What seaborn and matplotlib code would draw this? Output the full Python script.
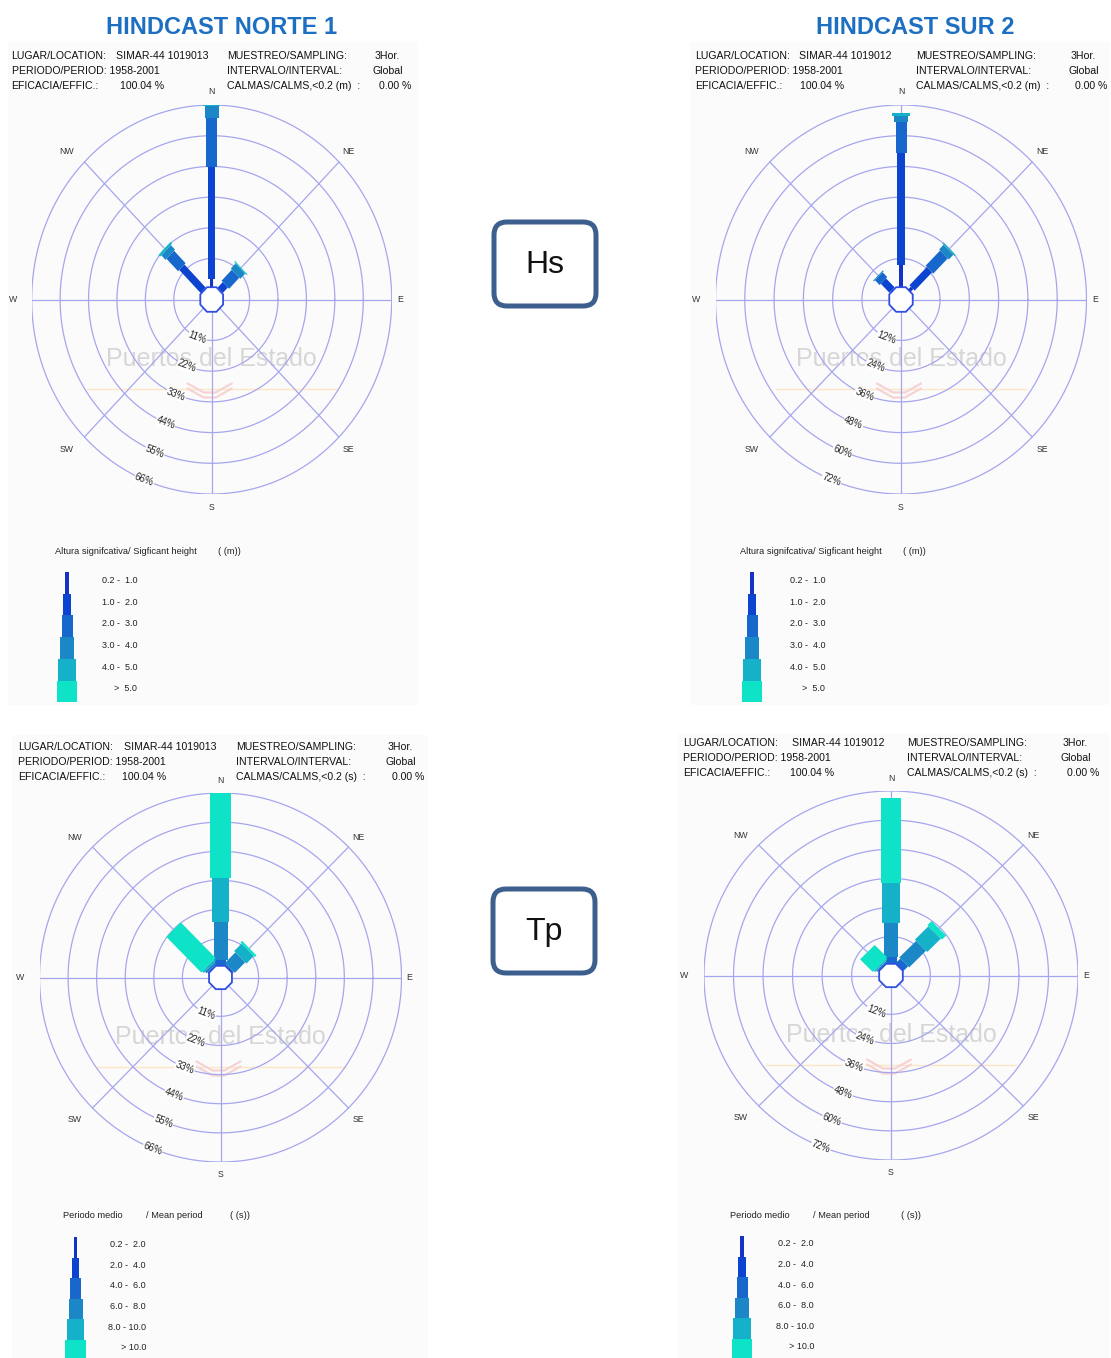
import numpy as np
import matplotlib
matplotlib.use("Agg")
import matplotlib.pyplot as plt
from matplotlib.patches import FancyBboxPatch, Rectangle
import seaborn as sns

# --- data (percent of records per class, per direction) ---
bearings = [0, 45, 315]  # N, NE, NW

hs_labels = ["0.2 -  1.0", "1.0 -  2.0", "2.0 -  3.0", "3.0 -  4.0", "4.0 -  5.0", ">  5.0"]
tp_labels = ["0.2 -  2.0", "2.0 -  4.0", "4.0 -  6.0", "6.0 -  8.0", "8.0 - 10.0", "> 10.0"]

hs_norte_n = [3.8, 40.1, 17.3, 4.4, 1.0, 0.1]
hs_norte_ne = [1.0, 2.8, 5.6, 2.6, 0.4, 0.1]
hs_norte_nw = [1.0, 11.7, 6.3, 2.3, 0.8, 0.1]

hs_sur_n = [9.5, 43.6, 12.3, 2.3, 1.0, 0.1]
hs_sur_ne = [2.4, 10.1, 8.4, 2.6, 0.6, 0.0]
hs_sur_nw = [1.2, 5.0, 2.6, 0.5, 0.0, 0.0]

tp_norte_n = [0.1, 0.5, 2.3, 14.5, 16.4, 32.1]
tp_norte_ne = [0.1, 0.4, 1.0, 5.6, 4.0, 0.9]
tp_norte_nw = [0.1, 0.3, 0.8, 0.9, 0.8, 19.0]

tp_sur_n = [0.1, 0.9, 2.8, 13.7, 16.5, 35.0]
tp_sur_ne = [0.1, 0.8, 2.7, 9.7, 7.8, 2.4]
tp_sur_nw = [0.1, 0.3, 0.6, 0.6, 0.7, 7.3]

rings_norte = [11, 22, 33, 44, 55, 66]
rings_sur = [12, 24, 36, 48, 60, 72]

# --- style ---
sns.set_theme(style="white")
plt.rcParams["font.family"] = ["Liberation Sans", "DejaVu Sans"]

palette = sns.color_palette(["#1433c4", "#0c44cf", "#1767cc", "#1b87c6", "#14b1c9", "#0ee3c7"])
width_px = [3.5, 7.5, 11, 14, 17.5, 20.5]
ring_col = "#a6a6ee"
W, H = 1111, 1358

fig = plt.figure(figsize=(W / 100, H / 100), dpi=100)
bg = fig.add_axes([0, 0, 1, 1])
bg.set_xlim(0, W)
bg.set_ylim(H, 0)
bg.axis("off")

# light screenshot panels
for x0, y0, w, h in [(8, 42, 410, 663), (690, 42, 420, 663), (12, 735, 416, 623), (678, 733, 432, 625)]:
    bg.add_patch(Rectangle((x0, y0), w, h, color="#fbfbfb", lw=0, zorder=0))


def draw_rose(cx, cy, rx, ry, rings, rose):
    ax = fig.add_axes([(cx - rx) / W, 1 - (cy + ry) / H, 2 * rx / W, 2 * ry / H])
    ax.set_facecolor("none")
    ax.axis("off")
    o = rings[0] / 3
    R = o + rings[-1]
    ax.set_xlim(-R, R)
    ax.set_ylim(-R, R)
    kx, ky = rx / R, ry / R

    t = np.linspace(0, 2 * np.pi, 400)
    for rv in rings:
        ax.plot((o + rv) * np.cos(t), (o + rv) * np.sin(t), color=ring_col, lw=0.9, zorder=1)
    for b in range(0, 360, 45):
        a = np.radians(b)
        ax.plot([0, R * np.sin(a)], [0, R * np.cos(a)], color=ring_col, lw=0.9, zorder=1)

    # stacked bars, each class wider than the previous
    for b, vals in zip(bearings, rose):
        a = np.radians(b)
        s, c = np.sin(a), np.cos(a)
        cum = np.concatenate([[0], np.cumsum(vals)])
        scale = np.hypot(kx * c, ky * s)
        for i in range(6):
            if vals[i] <= 0:
                continue
            h = width_px[i] / 2 / scale
            r0, r1 = o + cum[i], o + cum[i + 1]
            xs = [r0 * s + h * c, r1 * s + h * c, r1 * s - h * c, r0 * s - h * c]
            ys = [r0 * c - h * s, r1 * c - h * s, r1 * c + h * s, r0 * c + h * s]
            ax.fill(xs, ys, color=palette[i], lw=0, zorder=3)

    # calm octagon
    a = np.radians(22.5 + 45 * np.arange(9))
    ro = o * 1.3
    ax.fill(ro * np.cos(a), ro * np.sin(a), facecolor="white", edgecolor="#2f4fe0", lw=1.3, zorder=4)

    # compass labels
    for name, x, y in [("N", 0, 1.068), ("NE", 0.76, 0.76), ("E", 1.045, 0), ("SE", 0.76, -0.77),
                       ("S", 0, -1.07), ("SW", -0.805, -0.77), ("W", -1.105, 0), ("NW", -0.805, 0.76)]:
        ax.text(x * R, y * R, name, fontsize=6.3, color="#333333", ha="center", va="center", clip_on=False)

    # ring labels
    la = np.radians(202)
    for rv in rings:
        ax.text((o + rv) * np.sin(la), (o + rv) * np.cos(la), f"{rv}%", fontsize=7, color="#222222",
                rotation=-21, ha="center", va="center", zorder=5,
                bbox=dict(facecolor="white", edgecolor="none", pad=0.3))

    # watermark
    bg.text(cx, cy + 60, "Puertos del Estado", fontsize=18, color="#d6d6d6", ha="center", va="center", zorder=1)
    bg.plot([cx - 125, cx + 125], [cy + 89, cy + 89], color="#fde6c4", lw=1, zorder=1)
    for d in (0, 5):
        bg.plot([cx - 24, cx - 8, cx + 4, cx + 20], [cy + 84 + d, cy + 93 + d, cy + 93 + d, cy + 84 + d],
                color="#f7d2d2", lw=1.6, zorder=1)


def header(x1, x1v, xe, x2, xv, y, loc, unit):
    kw = dict(fontsize=7.6, color="#111111", va="center", ha="left")
    bg.text(x1, y, "LUGAR/LOCATION:", **kw)
    bg.text(x1v, y, f"SIMAR-44 {loc}", **kw)
    bg.text(x1, y + 15, "PERIODO/PERIOD: 1958-2001", **kw)
    bg.text(x1, y + 30, "EFICACIA/EFFIC.:", **kw)
    bg.text(xe, y + 30, "100.04 %", **kw)
    bg.text(x2, y, "MUESTREO/SAMPLING:", **kw)
    bg.text(x2, y + 15, "INTERVALO/INTERVAL:", **kw)
    bg.text(x2, y + 30, f"CALMAS/CALMS,<0.2 ({unit})  :", **kw)
    bg.text(xv, y, "3Hor.", **kw)
    bg.text(xv - 2.5, y + 15, "Global", **kw)
    bg.text(xv + 4, y + 30, "0.00 %", **kw)


def legend(xs, ytop, seg_h, xr, labels, titles, ty):
    for i in range(6):
        bg.bar(xs, seg_h, width=width_px[i], bottom=ytop + i * seg_h, color=palette[i], lw=0, zorder=2)
        bg.text(xr, ytop + i * seg_h + seg_h / 2 - 2.5, labels[i], fontsize=6.5, color="#222222",
                ha="right", va="center")
    for txt, x in titles:
        bg.text(x, ty, txt, fontsize=6.7, color="#222222", ha="left", va="center")


# top row: significant height
draw_rose(211.7, 299.5, 180, 194.5, rings_norte, [hs_norte_n, hs_norte_ne, hs_norte_nw])
draw_rose(901, 299.5, 185.5, 194.5, rings_sur, [hs_sur_n, hs_sur_ne, hs_sur_nw])
# bottom row: period
draw_rose(220.5, 977.5, 181, 184.5, rings_norte, [tp_norte_n, tp_norte_ne, tp_norte_nw])
draw_rose(891, 975.5, 187, 184.5, rings_sur, [tp_sur_n, tp_sur_ne, tp_sur_nw])

header(11.5, 116.5, 120, 226.7, 375, 55.7, "1019013", "m")
header(695, 799, 800, 916, 1071, 55.7, "1019012", "m")
header(18, 124, 122, 236, 388, 747, "1019013", "s")
header(683, 792, 790, 907, 1063, 743, "1019012", "s")

legend(67, 572, 21.7, 137, hs_labels,
       [("Altura signifcativa/ Sigficant height", 55), ("( (m))", 218)], 551)
legend(752, 572, 21.7, 825, hs_labels,
       [("Altura signifcativa/ Sigficant height", 740), ("( (m))", 903)], 551)
legend(75.7, 1237, 20.6, 146, tp_labels,
       [("Periodo medio", 63), ("/ Mean period", 146), ("( (s))", 230)], 1216)
legend(742, 1236, 20.6, 814, tp_labels,
       [("Periodo medio", 730), ("/ Mean period", 813), ("( (s))", 901)], 1215)

# titles
for x, txt in [(222, "HINDCAST NORTE 1"), (915, "HINDCAST SUR 2")]:
    bg.text(x, 27, txt, fontsize=17, fontweight="bold", color="#1d6fc2", ha="center", va="center")

# variable boxes
for x0, y0, txt in [(494, 222, "Hs"), (493, 889, "Tp")]:
    bg.add_patch(FancyBboxPatch((x0, y0), 102, 84, boxstyle="round,pad=0,rounding_size=13",
                                lw=3.6, ec="#3d5f8e", fc="white", zorder=3))
    bg.text(x0 + 51, y0 + 43, txt, fontsize=23, color="#111111", ha="center", va="center", zorder=4)

fig.savefig("out.png", dpi=100)
